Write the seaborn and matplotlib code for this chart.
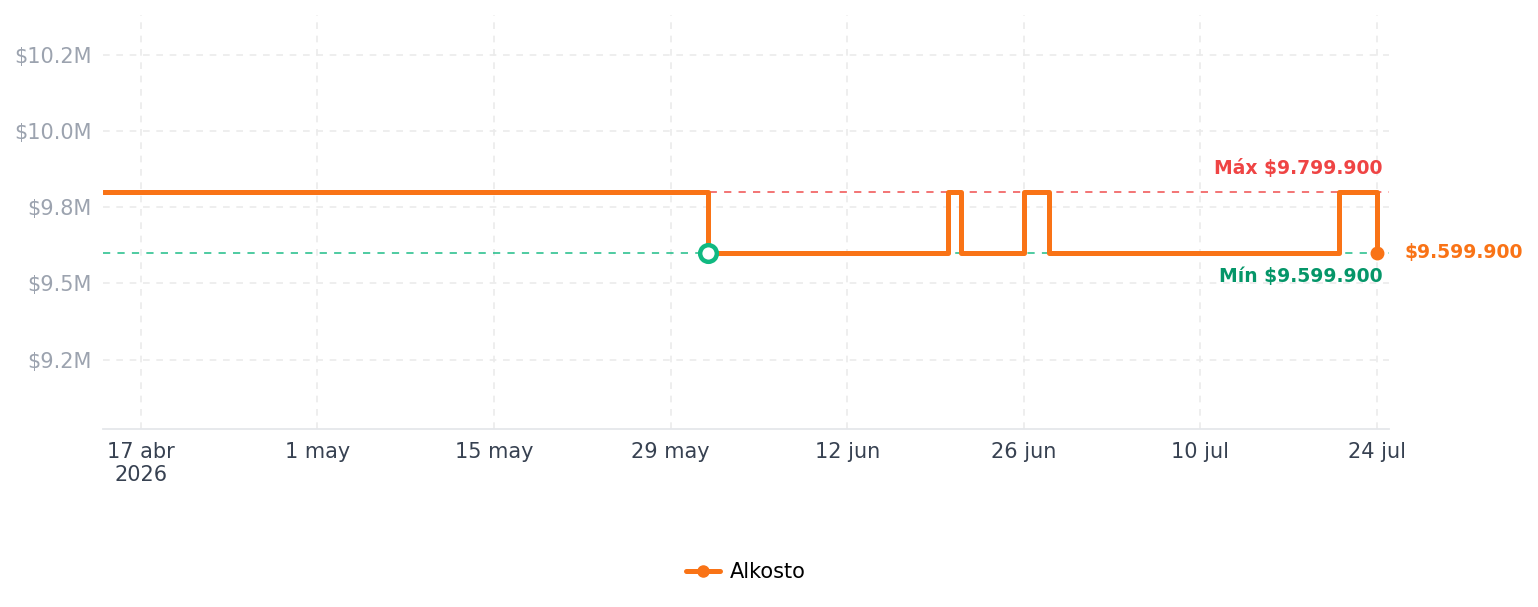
import pandas as pd
import matplotlib.pyplot as plt
from matplotlib.lines import Line2D
import seaborn as sns

# datos del historial de precios (escalonado)
fechas = ["2026-04-14", "2026-06-01", "2026-06-20", "2026-06-21",
          "2026-06-26", "2026-06-28", "2026-07-21", "2026-07-24"]
precios = [9799900, 9599900, 9799900, 9599900,
           9799900, 9599900, 9799900, 9599900]
tienda = "Alkosto"

tick_fechas = ["2026-04-17", "2026-05-01", "2026-05-15", "2026-05-29",
               "2026-06-12", "2026-06-26", "2026-07-10", "2026-07-24"]
tick_labels = ["17 abr\n2026", "1 may", "15 may", "29 may",
               "12 jun", "26 jun", "10 jul", "24 jul"]
y_ticks = [9250000, 9500000, 9750000, 10000000, 10250000]

NARANJA = "#f97316"
ROJO = "#ef4444"
VERDE = "#10b981"
VERDE_TXT = "#059669"


def fmt_precio(v):
    return "$" + f"{v:,.0f}".replace(",", ".")


df = pd.DataFrame({"fecha": pd.to_datetime(fechas), "precio": precios})
p_max = df["precio"].max()
p_min = df["precio"].min()
idx_min = df["precio"].idxmin()

sns.set_theme(style="white")
plt.rcParams["font.family"] = ["DejaVu Sans"]

fig = plt.figure(figsize=(15.38, 6.07), dpi=100)
ax = fig.add_axes([103 / 1538, 178 / 607, 1286 / 1538, 414 / 607])

# lineas de referencia max / min
ax.axhline(p_max, color=ROJO, alpha=0.8, lw=1.3, dashes=(4, 4), zorder=1)
ax.axhline(p_min, color=VERDE, alpha=0.8, lw=1.3, dashes=(4, 4), zorder=1)

sns.lineplot(data=df, x="fecha", y="precio", ax=ax, color=NARANJA, lw=3.6,
             drawstyle="steps-post", legend=False, zorder=3,
             solid_joinstyle="round")

# punto final y punto minimo
ax.plot(df["fecha"].iloc[-1], df["precio"].iloc[-1], "o", color=NARANJA,
        ms=9, zorder=4)
ax.plot(df["fecha"].iloc[idx_min], p_min, "o", mfc="white", mec=VERDE,
        mew=3.2, ms=12, zorder=5)

x_fin = df["fecha"].iloc[-1]
ax.annotate("Máx " + fmt_precio(p_max), (x_fin, p_max), xytext=(4, 17),
            textcoords="offset points", ha="right", va="center",
            color=ROJO, fontsize=13.5, fontweight="bold")
ax.annotate("Mín " + fmt_precio(p_min), (x_fin, p_min), xytext=(4, -17),
            textcoords="offset points", ha="right", va="center",
            color=VERDE_TXT, fontsize=13.5, fontweight="bold")
ax.annotate(fmt_precio(df["precio"].iloc[-1]), (x_fin, df["precio"].iloc[-1]),
            xytext=(20, 0), textcoords="offset points", ha="left",
            va="center", color=NARANJA, fontsize=13.5, fontweight="bold",
            annotation_clip=False)

ax.set_xlim(pd.Timestamp("2026-04-14"), pd.Timestamp("2026-07-24 23:00"))
ax.set_ylim(9023000, 10380000)

ax.set_xticks(pd.to_datetime(tick_fechas))
ax.set_xticklabels(tick_labels)
ax.set_yticks(y_ticks)
ax.set_yticklabels([f"${v / 1e6:.1f}M" for v in y_ticks])
ax.tick_params(axis="x", length=0, pad=9, labelsize=15, labelcolor="#374151")
ax.tick_params(axis="y", length=0, pad=8, labelsize=15, labelcolor="#9ca3af")

ax.grid(True, color="#ebebeb", lw=1.2, dashes=(4, 4))
ax.set_xlabel("")
ax.set_ylabel("")
for s in ["top", "right", "left"]:
    ax.spines[s].set_visible(False)
ax.spines["bottom"].set_color("#e5e7eb")
ax.spines["bottom"].set_linewidth(1.3)

handle = Line2D([], [], color=NARANJA, lw=3.6, marker="o", ms=8)
fig.legend([handle], [tienda], loc="center", bbox_to_anchor=(746 / 1538, 35 / 607),
           frameon=False, fontsize=15, handlelength=1.6, handletextpad=0.5,
           labelcolor="black")

fig.savefig("out.png", dpi=100)
